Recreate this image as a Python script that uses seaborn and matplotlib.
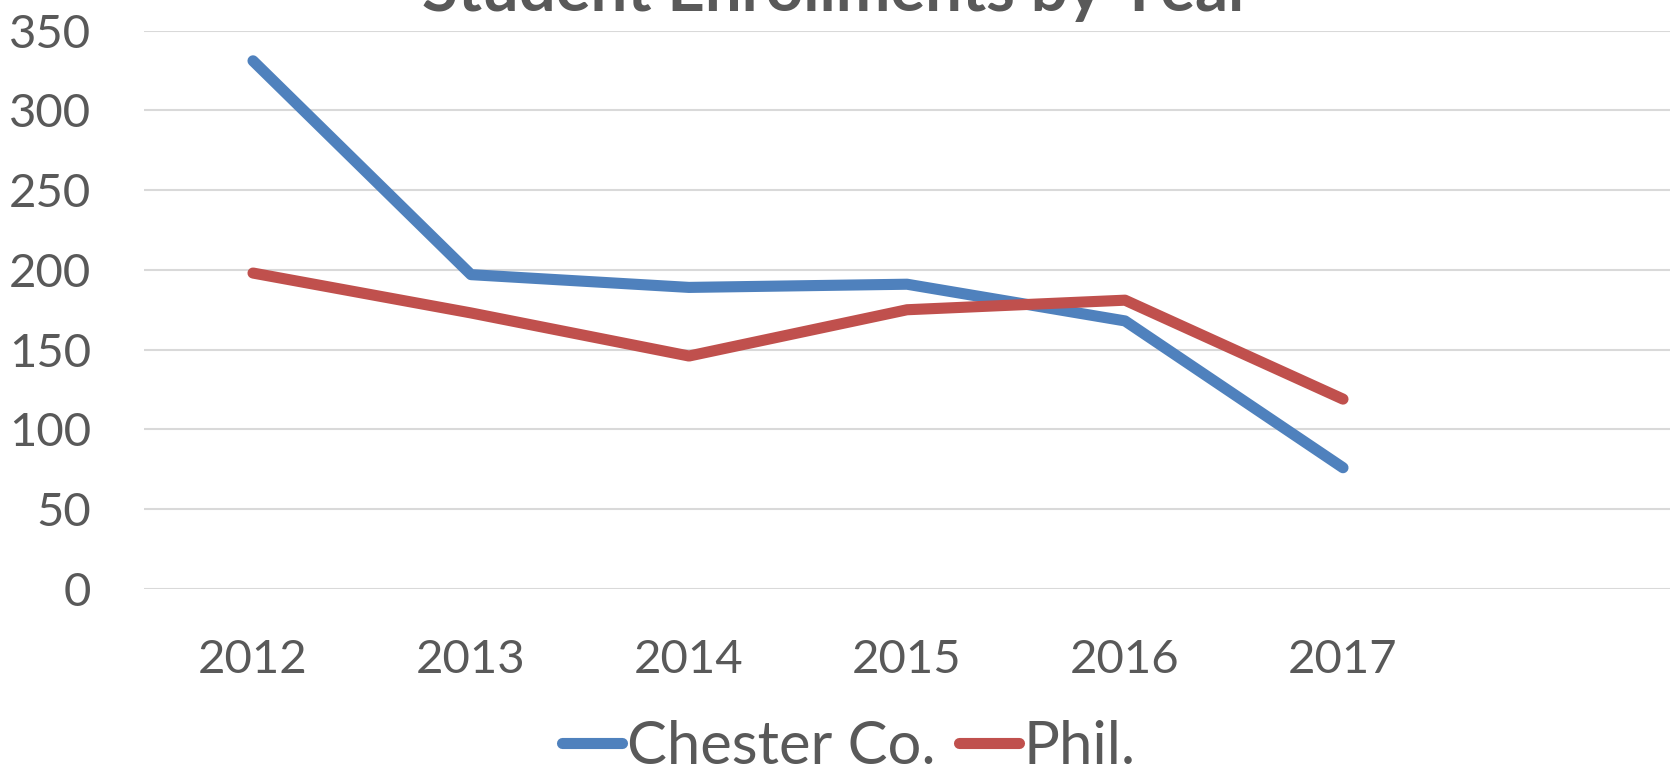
import pandas as pd
import seaborn as sns
import matplotlib.pyplot as plt

# data
years = ["2012", "2013", "2014", "2015", "2016", "2017"]
chester = [331, 197, 189, 191, 168, 76]
phil = [198, 173, 146, 175, 181, 119]

series_names = ["Chester Co.", "Phil."]
colors = {"Chester Co.": "#4F81BD", "Phil.": "#C0504D"}
yticks = [0, 50, 100, 150, 200, 250, 300, 350]

text_color = "#595959"

df = pd.DataFrame({
    "Year": years * 2,
    "Enrollment": chester + phil,
    "Region": [series_names[0]] * len(years) + [series_names[1]] * len(years),
})

sns.set_style("white")
plt.rcParams["font.family"] = ["Lato", "DejaVu Sans"]

fig = plt.figure(figsize=(16.75, 7.75), dpi=100)
ax = fig.add_axes([144 / 1675, 1 - 589 / 775, 1526 / 1675, 558.5 / 775])

sns.lineplot(
    data=df, x="Year", y="Enrollment", hue="Region",
    palette=colors, linewidth=8, ax=ax, legend=False,
    sort=False,
)
for line in ax.lines:
    line.set_solid_capstyle("round")
    line.set_solid_joinstyle("round")
    line.set_clip_on(False)

# seven category slots, the last one empty
ax.set_xlim(-0.5, 6.5)
ax.set_ylim(0, 350)
ax.set_yticks(yticks)
ax.set_xticks(range(len(years)))
ax.set_xticklabels(years)

ax.grid(axis="y", color="#D9D9D9", linewidth=1.5)
ax.grid(axis="x", visible=False)
ax.set_axisbelow(True)
for s in ax.spines.values():
    s.set_visible(False)

ax.tick_params(axis="both", length=0, labelsize=34, labelcolor=text_color)
ax.tick_params(axis="y", pad=38)
ax.tick_params(axis="x", pad=36)
ax.set_xlabel("")
ax.set_ylabel("")

# title sits mostly above the canvas, as in the reference
fig.text(0.5, 1 - 11 / 775, "Student Enrollments by Year", ha="center",
         va="baseline", fontsize=47, fontweight="bold", color=text_color)

handles = [plt.Line2D([], [], color=colors[n], linewidth=8,
                      solid_capstyle="round") for n in series_names]
leg = fig.legend(handles, series_names, loc="center",
                 bbox_to_anchor=(849 / 1675, 1 - 747 / 775), ncol=2,
                 frameon=False, fontsize=43, handlelength=1.0,
                 handletextpad=0.08, columnspacing=0.4, borderpad=0)
for t in leg.get_texts():
    t.set_color(text_color)

plt.savefig("out.png", dpi=100)
plt.close()
